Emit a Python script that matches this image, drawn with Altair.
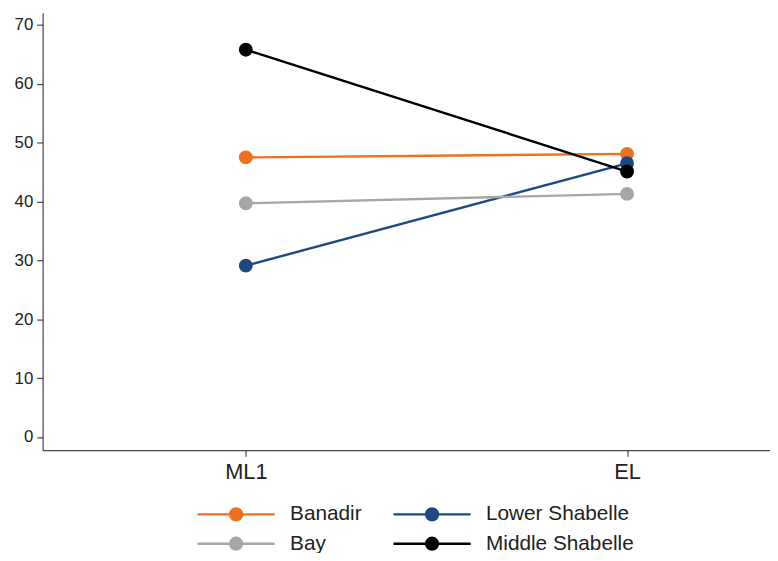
import altair as alt
import pandas as pd

periods = ["ML1", "EL"]
regions = ["Banadir", "Lower Shabelle", "Bay", "Middle Shabelle"]
banadir = [47.5, 48.1]
lower_shabelle = [29.1, 46.5]
bay = [39.7, 41.3]
middle_shabelle = [65.8, 45.1]
colors = ["#f07020", "#1f4882", "#a6a6a6", "#000000"]
y_ticks = [0, 10, 20, 30, 40, 50, 60, 70]

series = [banadir, lower_shabelle, bay, middle_shabelle]
rows = []
for r, vals in zip(regions, series):
    for i, (p, v) in enumerate(zip(periods, vals)):
        rows.append({"region": r, "period": p, "pos": i, "value": v})
df = pd.DataFrame(rows)

FONT = "Liberation Sans"
cscale = alt.Scale(domain=regions, range=colors)
# legend glyph: a line with a dot in its middle (units of 10 px)
sym = "M-1,0L6.8,0M3.5,0A0.6,0.6,0,1,1,2.3,0A0.6,0.6,0,1,1,3.5,0Z"
legend = alt.Legend(
    title=None, orient="none", legendX=155, legendY=495, columns=2,
    direction="horizontal", symbolType=sym, symbolSize=400, symbolStrokeWidth=2.4,
    labelFont=FONT, labelFontSize=21, labelColor="#222", columnPadding=26,
    rowPadding=7, labelOffset=72, padding=0,
)

x = alt.X("pos:Q", scale=alt.Scale(domain=[-0.533, 1.375], nice=False, zero=False),
          axis=alt.Axis(values=[0, 1], labelExpr="datum.value == 0 ? 'ML1' : 'EL'",
                        title=None, grid=False, labelFontSize=22, labelPadding=6,
                        tickSize=6))
y = alt.Y("value:Q", scale=alt.Scale(domain=[-2.26, 72.07], nice=False, zero=False),
          axis=alt.Axis(values=y_ticks, title=None, grid=False, labelFontSize=17,
                        tickSize=6, labelPadding=4))

base = alt.Chart(df)
lines = base.mark_line(strokeWidth=2.4).encode(
    x=x, y=y,
    stroke=alt.Stroke("region:N", scale=cscale, sort=regions, legend=legend),
    order=alt.Order("pos:Q"),
)
points = base.mark_point(filled=True, size=145, opacity=1).encode(
    x=x, y=y,
    fill=alt.Fill("region:N", scale=cscale, sort=regions, legend=legend),
    stroke=alt.Stroke("region:N", scale=cscale, sort=regions, legend=legend),
)

chart = alt.layer(lines, points).properties(
    width=735, height=442,
    autosize=alt.AutoSizeParams(type="none"),
    padding={"left": 35, "top": 2, "right": 0, "bottom": 101},
).configure_view(stroke=None).configure_axis(
    labelFont=FONT, labelColor="#222", domainColor="#444", tickColor="#444",
    domainWidth=1.2, tickWidth=1.2,
)

chart.save("out.html", embed_options={"renderer": "svg", "actions": False})
